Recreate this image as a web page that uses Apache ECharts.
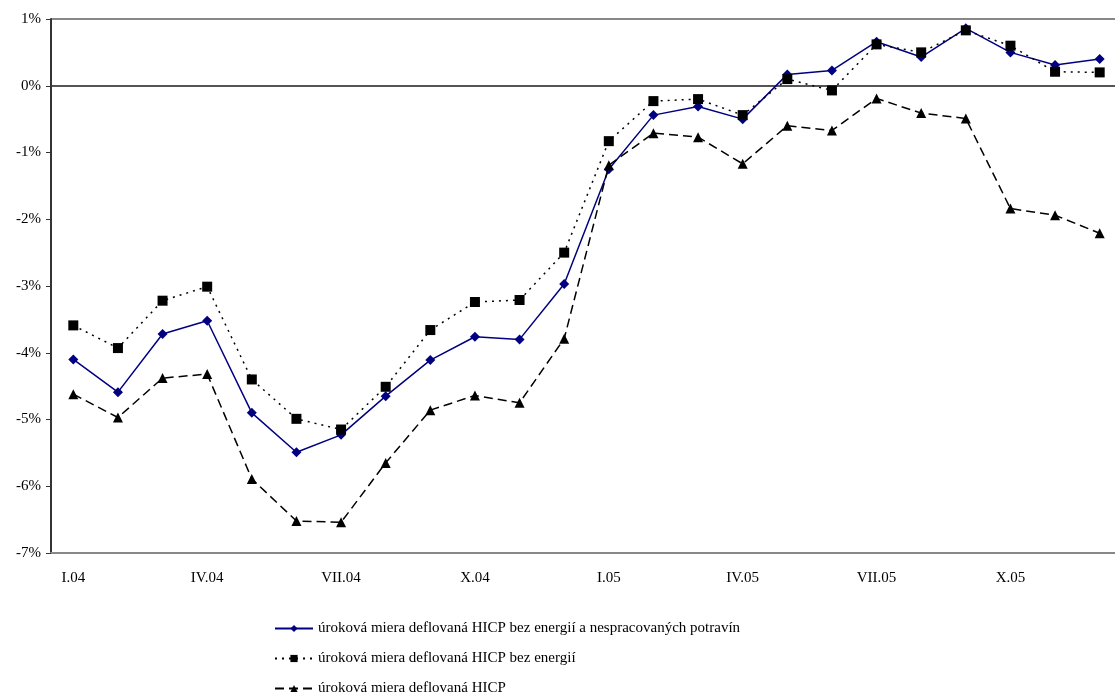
<!DOCTYPE html>
<html>
<head>
<meta charset="utf-8">
<script src="https://cdn.jsdelivr.net/npm/echarts@6/dist/echarts.min.js"></script>
<style>
  html, body { margin: 0; padding: 0; background: #fff; }
  #main { width: 1115px; height: 698px; }
</style>
</head>
<body>
<div id="main"></div>
<script>
// mesiace I.04 - XII.05
const months = ["I.04", "II.04", "III.04", "IV.04", "V.04", "VI.04", "VII.04", "VIII.04", "IX.04", "X.04", "XI.04", "XII.04",
  "I.05", "II.05", "III.05", "IV.05", "V.05", "VI.05", "VII.05", "VIII.05", "IX.05", "X.05", "XI.05", "XII.05"]

const names = [
  "úroková miera deflovaná HICP bez energií a nespracovaných potravín",
  "úroková miera deflovaná HICP bez energií",
  "úroková miera deflovaná HICP"
]

const bezEnergiiAPotravin = [-4.10, -4.59, -3.72, -3.52, -4.90, -5.49, -5.23, -4.65, -4.11, -3.76, -3.80, -2.97,
  -1.25, -0.44, -0.31, -0.50, 0.17, 0.23, 0.66, 0.43, 0.86, 0.50, 0.31, 0.40]
const bezEnergii = [-3.59, -3.93, -3.22, -3.01, -4.40, -4.99, -5.15, -4.51, -3.66, -3.24, -3.21, -2.50,
  -0.83, -0.23, -0.20, -0.44, 0.10, -0.07, 0.62, 0.50, 0.83, 0.60, 0.21, 0.20]
const hicp = [-4.62, -4.97, -4.38, -4.32, -5.89, -6.52, -6.54, -5.65, -4.86, -4.64, -4.75, -3.79,
  -1.19, -0.71, -0.77, -1.17, -0.60, -0.67, -0.19, -0.41, -0.49, -1.84, -1.94, -2.21]

const font = "Liberation Serif"

var myChart = echarts.init(document.getElementById("main"))

var option = {
  animation: false,
  textStyle: { fontFamily: font },
  // plocha grafu presahuje za pravy okraj obrazka
  grid: { left: 51, width: 1071, top: 19, bottom: 145, outerBoundsMode: "none", containLabel: false },
  legend: {
    orient: "vertical",
    left: 274,
    top: 621,
    height: 120,
    padding: 0,
    itemGap: 15,
    itemWidth: 38,
    itemHeight: 9,
    textStyle: { fontFamily: font, fontSize: 15, color: "#000" },
    data: names
  },
  xAxis: {
    type: "category",
    data: months,
    boundaryGap: true,
    axisLine: { onZero: false, lineStyle: { color: "#888", width: 2 } },
    axisTick: { show: false },
    axisLabel: { interval: 2, margin: 18, color: "#000", fontFamily: font, fontSize: 15 }
  },
  yAxis: {
    type: "value",
    min: -7,
    max: 1,
    interval: 1,
    axisLine: { show: true, lineStyle: { color: "#333", width: 2 } },
    axisTick: { show: true, inside: false, length: 5, lineStyle: { color: "#333" } },
    axisLabel: {
      margin: 10, color: "#000", fontFamily: font, fontSize: 15,
      formatter: function (v) { return v + "%" }
    },
    splitLine: {
      show: true,
      lineStyle: {
        width: 2,
        color: ["transparent", "transparent", "transparent", "transparent", "transparent", "transparent", "transparent", "#555", "#888"]
      }
    }
  },
  series: [
    {
      name: names[0],
      type: "line",
      data: bezEnergiiAPotravin,
      symbol: "diamond",
      symbolSize: 10,
      z: 2,
      itemStyle: { color: "#000080" },
      lineStyle: { color: "#000080", width: 1.5 }
    },
    {
      name: names[1],
      type: "line",
      data: bezEnergii,
      symbol: "rect",
      symbolSize: 10,
      z: 3,
      itemStyle: { color: "#000" },
      lineStyle: { color: "#000", width: 1.5, type: [2, 5] }
    },
    {
      name: names[2],
      type: "line",
      data: hicp,
      symbol: "triangle",
      symbolSize: 10,
      z: 4,
      itemStyle: { color: "#000" },
      lineStyle: { color: "#000", width: 1.5, type: [9, 5] }
    }
  ]
}

myChart.setOption(option)
</script>
</body>
</html>
